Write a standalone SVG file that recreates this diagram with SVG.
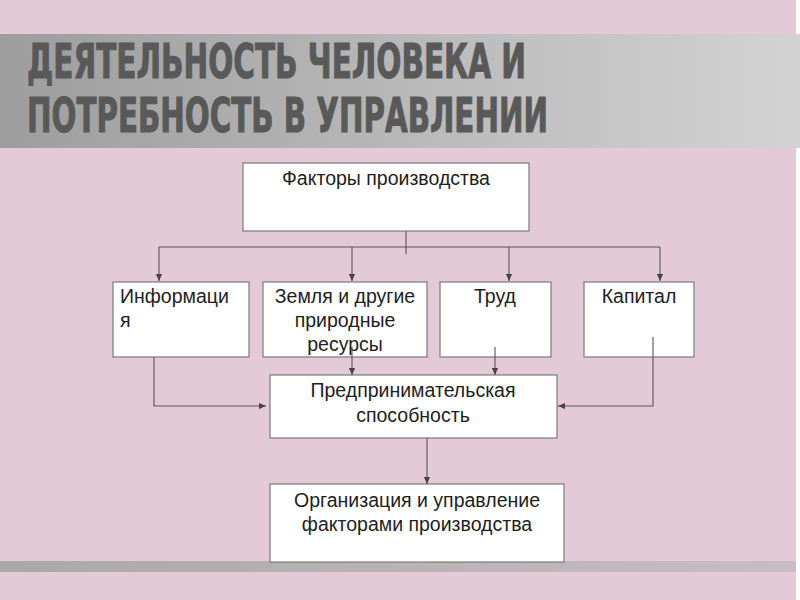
<svg xmlns="http://www.w3.org/2000/svg" width="800" height="600" viewBox="0 0 800 600">
<defs>
<linearGradient id="gTitle" x1="0" y1="0" x2="1" y2="0">
<stop offset="0" stop-color="#9d9d9d"/>
<stop offset="1" stop-color="#d3d3d3"/>
</linearGradient>
<linearGradient id="gBot" x1="0" y1="0" x2="1" y2="0">
<stop offset="0" stop-color="#a9a9a9"/>
<stop offset="1" stop-color="#c9bcc2"/>
</linearGradient>
<marker id="arr" viewBox="0 0 8 8" refX="8" refY="4" markerWidth="7" markerHeight="7" markerUnits="userSpaceOnUse" orient="auto">
<path d="M0,0.5 L8,4 L0,7.5 Z" fill="#444"/>
</marker>
<style>
.box{fill:#ffffff;stroke:#7a7a7a;stroke-width:1.2}
.t{font-family:"Liberation Sans",Arial,sans-serif;font-size:19.5px;fill:#1e1e1e}
.c{text-anchor:middle}
.ln{fill:none;stroke:#555;stroke-width:1.1}
.title{font-family:"DejaVu Sans Condensed","DejaVu Sans",sans-serif;font-weight:bold;font-size:48px;fill:#595959;stroke:#595959;stroke-width:1}
</style>
</defs>
<rect x="0" y="0" width="800" height="600" fill="#ffffff"/>
<rect x="0" y="0" width="796" height="600" fill="#e4c9d7"/>
<rect x="0" y="34" width="800" height="114" fill="url(#gTitle)"/>
<rect x="0" y="561" width="796" height="11" fill="url(#gBot)"/>
<g id="title">
<text class="title" x="27" y="78" textLength="499" lengthAdjust="spacingAndGlyphs">ДЕЯТЕЛЬНОСТЬ ЧЕЛОВЕКА И</text>
<text class="title" x="27" y="132" textLength="521" lengthAdjust="spacingAndGlyphs">ПОТРЕБНОСТЬ В УПРАВЛЕНИИ</text>
</g>
<g id="connectors">
<path class="ln" d="M406,231 V254"/>
<path class="ln" d="M159,247 H660"/>
<path class="ln" d="M159,247 V281" marker-end="url(#arr)"/>
<path class="ln" d="M352,247 V281" marker-end="url(#arr)"/>
<path class="ln" d="M509,247 V281" marker-end="url(#arr)"/>
<path class="ln" d="M660,247 V281" marker-end="url(#arr)"/>
</g>
<g id="n-factors">
<rect class="box" x="243" y="163" width="286" height="68"/>
<text class="t c" x="386" y="185">Факторы производства</text>
</g>
<g id="n-info">
<rect class="box" x="113" y="282" width="136" height="75"/>
<text class="t" x="120" y="303">Информаци</text>
<text class="t" x="120" y="327">я</text>
</g>
<g id="n-land">
<rect class="box" x="263" y="282" width="164" height="75"/>
<text class="t c" x="345" y="303">Земля и другие</text>
<text class="t c" x="345" y="327">природные</text>
<text class="t c" x="345" y="351">ресурсы</text>
</g>
<g id="n-labor">
<rect class="box" x="440" y="282" width="111" height="75"/>
<text class="t c" x="495" y="303">Труд</text>
</g>
<g id="n-capital">
<rect class="box" x="584" y="282" width="110" height="75"/>
<text class="t c" x="639" y="303">Капитал</text>
</g>
<g id="n-entre">
<rect class="box" x="270" y="375" width="287" height="63"/>
<text class="t c" x="413" y="397">Предпринимательская</text>
<text class="t c" x="413" y="422">способность</text>
</g>
<g id="n-org">
<rect class="box" x="270" y="484" width="294" height="78"/>
<text class="t c" x="417" y="507">Организация и управление</text>
<text class="t c" x="417" y="531">факторами производства</text>
</g>
<g id="connectors2">
<path class="ln" d="M154,357 V406 H266" marker-end="url(#arr)"/>
<path class="ln" d="M653,337 V406 H558" marker-end="url(#arr)"/>
<path class="ln" d="M352,347 V375" marker-end="url(#arr)"/>
<path class="ln" d="M495,347 V375" marker-end="url(#arr)"/>
<path class="ln" d="M427,438 V484" marker-end="url(#arr)"/>
</g>
</svg>
